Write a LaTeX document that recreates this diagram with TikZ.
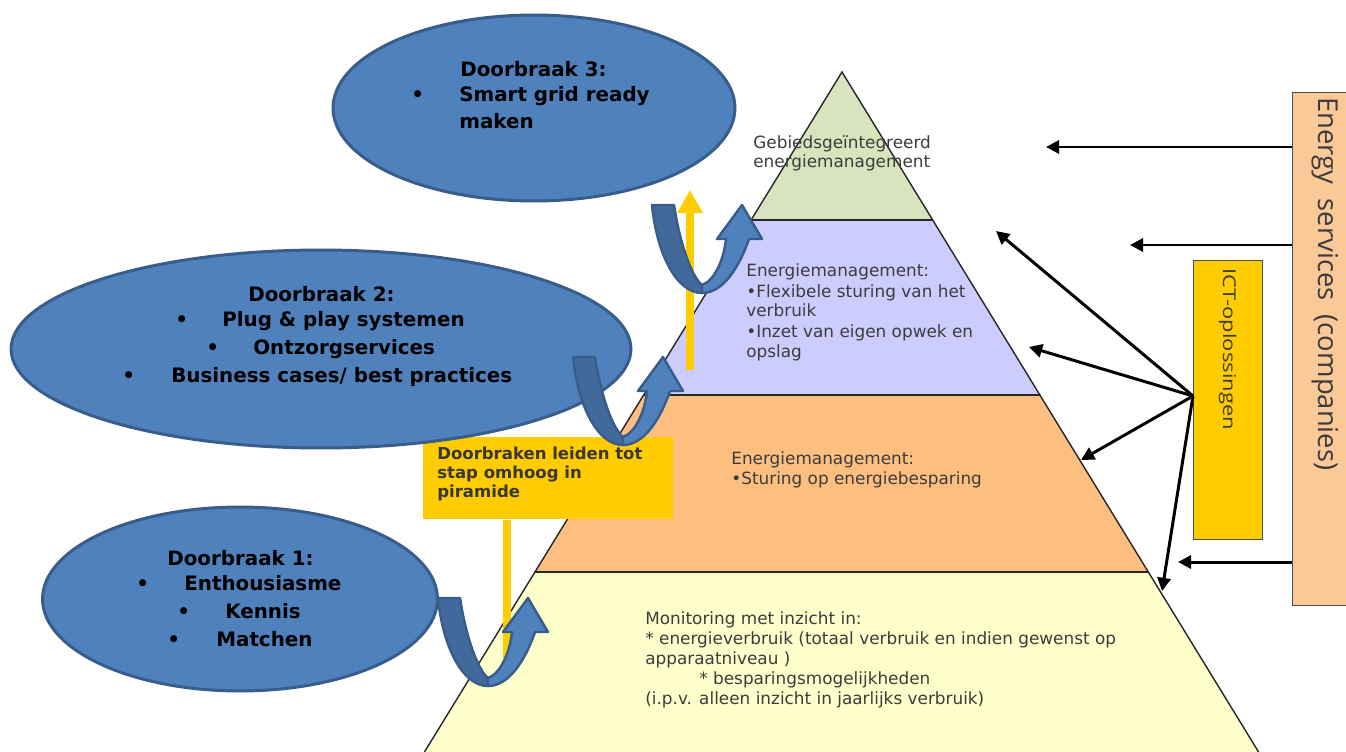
\documentclass[tikz,border=0pt]{standalone}
\usepackage{fontspec}
\setmainfont{DejaVu Sans}
\newfontfamily\osans{Open Sans}
\usetikzlibrary{arrows.meta,shapes.geometric}

\definecolor{bluefill}{HTML}{4F81BD}
\definecolor{blueback}{HTML}{41699C}
\definecolor{blueborder}{HTML}{385D8A}
\definecolor{lvgreen}{HTML}{D7E4BD}
\definecolor{lvpurple}{HTML}{CCCCFF}
\definecolor{lvorange}{HTML}{FDBF80}
\definecolor{lvyellow}{HTML}{FFFFCC}
\definecolor{gold}{HTML}{FFCC00}
\definecolor{peach}{HTML}{FBC898}
\definecolor{txtgrey}{HTML}{3C3C3C}
\definecolor{boxtxt}{HTML}{383838}

\tikzset{
  uturnarrow/.pic={
    \filldraw[fill=blueback, draw=blueborder, line width=1.4pt, line join=round]
      (0,0) .. controls (5,50) and (25,88) .. (50,88) -- (50,80)
      .. controls (40,72) and (28,40) .. (22,0) -- cycle;
    \filldraw[fill=bluefill, draw=blueborder, line width=1.4pt, line join=round]
      (50,88) .. controls (72,88) and (88,60) .. (97,34) -- (110,34) -- (90,0)
      -- (65,34) -- (74,34) .. controls (72,55) and (62,76) .. (50,80) -- cycle;
  }
}

\begin{document}
\begin{tikzpicture}[x=0.02cm,y=-0.02cm,
  ptext/.style={anchor=base west, inner sep=0pt, text=txtgrey,
                font=\fontsize{9.6}{11}\selectfont},
  btext/.style={anchor=base west, inner sep=0pt, text=black,
                font=\fontsize{11.3}{14}\selectfont\bfseries},
  stext/.style={anchor=base west, inner sep=0pt, text=boxtxt,
                font=\fontsize{9.4}{11}\selectfont\bfseries},
  bubble/.style={ellipse, inner sep=0pt, fill=bluefill, draw=blueborder, line width=1.7pt},
  goldbox/.style={rectangle, inner sep=0pt, fill=gold, anchor=north west},
  yline/.style={draw=gold, line width=4.5pt},
  blackarrow/.style={draw=black, line width=1.7pt, -{Triangle[length=7.5pt,width=7.5pt]}},
  layerline/.style={draw=black!85, line width=0.8pt}
]
\useasboundingbox (0,0) rectangle (1346,751);
\fill[white] (0,0) rectangle (1346,751);

% pyramid layers
\fill[lvgreen]  (842,72) -- (932.7,220) -- (751.1,220) -- cycle;
\fill[lvpurple] (751.1,220) -- (932.7,220) -- (1039.9,395) -- (643.6,395) -- cycle;
\fill[lvorange] (643.6,395) -- (1039.9,395) -- (1148.3,572) -- (534.9,572) -- cycle;
\fill[lvyellow] (534.9,572) -- (1148.3,572) -- (1263.5,760) -- (419.5,760) -- cycle;
\draw[layerline] (419.5,760) -- (842,72) -- (1263.5,760);
\draw[layerline] (751.1,220) -- (932.7,220);
\draw[layerline] (643.6,395) -- (1039.9,395);
\draw[layerline] (534.9,572) -- (1148.3,572);

% pyramid texts
\node[ptext] (g1) at (753,148) {Gebiedsgeïntegreerd};
\node[ptext] (g2) at (753,167) {energiemanagement};
\node[ptext] (p1) at (746,276) {Energiemanagement:};
\node[ptext] (p2) at (746,297) {•Flexibele sturing van het};
\node[ptext] (p3) at (746,316) {verbruik};
\node[ptext] (p4) at (746,337) {•Inzet van eigen opwek en};
\node[ptext] (p5) at (746,357) {opslag};
\node[ptext] (o1) at (731,464) {Energiemanagement:};
\node[ptext] (o2) at (731,484) {•Sturing op energiebesparing};
\node[ptext] (y1) at (645,624) {Monitoring met inzicht in:};
\node[ptext] (y2) at (645,644) {* energieverbruik (totaal verbruik en indien gewenst op};
\node[ptext] (y3) at (645,664) {apparaatniveau )};
\node[ptext] (y4) at (699,684) {* besparingsmogelijkheden};
\node[ptext] (y5) at (645,704) {(i.p.v. alleen inzicht in jaarlijks verbruik)};

% yellow step indicator
\node[goldbox, minimum width=5cm, minimum height=1.64cm] (stap) at (423,437) {};
\coordinate (ylo) at (507,660);
\coordinate (yhiA) at (690,370);
\coordinate (yhiB) at (690,190);
\draw[yline] (ylo) -- (ylo |- stap.south);
\draw[yline, -{Triangle[length=13pt,width=13.6pt]}] (yhiA) -- (yhiB);
\node[stext] (s1) at (437,459) {Doorbraken leiden tot};
\node[stext] (s2) at (437,478) {stap omhoog in};
\node[stext] (s3) at (437,497) {piramide};

% breakthrough bubbles
\node[bubble, minimum width=8.04cm, minimum height=3.72cm] (e3) at (534,108) {};
\node[bubble, minimum width=12.4cm, minimum height=3.96cm] (e2) at (321,349) {};
\node[bubble, minimum width=7.9cm, minimum height=3.68cm] (e1) at (240,599) {};

\node[btext] (t3a) at (460,76) {Doorbraak 3:};
\node[btext] (t3b) at (411,101) {•};
\node[btext] (t3c) at (459,101) {Smart grid ready};
\node[btext] (t3d) at (459,128) {maken};

\node[btext] (t2a) at (248,301) {Doorbraak 2:};
\node[btext] (t2b) at (175,326) {•};
\node[btext] (t2c) at (222,326) {Plug \& play systemen};
\node[btext] (t2d) at (206,354) {•};
\node[btext] (t2e) at (253,354) {Ontzorgservices};
\node[btext] (t2f) at (122,382) {•};
\node[btext] (t2g) at (171,382) {Business cases/ best practices};

\node[btext] (t1a) at (167,565) {Doorbraak 1:};
\node[btext] (t1b) at (136,590) {•};
\node[btext] (t1c) at (184,590) {Enthousiasme};
\node[btext] (t1d) at (177,618) {•};
\node[btext] (t1e) at (225,618) {Kennis};
\node[btext] (t1f) at (167,646) {•};
\node[btext] (t1g) at (216,646) {Matchen};

% curved step-up arrows
\pic at (438,598) {uturnarrow};
\pic at (573,357) {uturnarrow};
\pic at (652,205) {uturnarrow};

% energy services and ICT
\node[rectangle, inner sep=0pt, fill=peach, draw=black!70, line width=0.6pt,
      anchor=north west, minimum width=1.6cm, minimum height=10.26cm] (es) at (1292,92) {};
\node[anchor=base west, rotate=-90, inner sep=0pt, text=txtgrey,
      font=\osans\fontsize{15.6}{18}\selectfont] (estxt) at (1318,97)
      {Energy\ \ services\ \ (companies)};
\node[goldbox, draw=black!70, line width=0.6pt, minimum width=1.38cm, minimum height=5.58cm] (ict) at (1193,260) {};
\node[anchor=base west, rotate=-90, inner sep=0pt, text=txtgrey,
      font=\osans\fontsize{12.5}{14}\selectfont] (icttxt) at (1223,268)
      {\scalebox{1}[0.8]{ICT-oplossingen}};

\coordinate (h1) at (1046,147);
\coordinate (h2) at (1130,245);
\coordinate (h3) at (1178,562);
\draw[blackarrow] (h1 -| es.west) -- (h1);
\draw[blackarrow] (h2 -| es.west) -- (h2);
\draw[blackarrow] (h3 -| es.west) -- (h3);

\coordinate (hub) at (1193,396);
\coordinate (d1) at (996,231);
\coordinate (d2) at (1029,347);
\coordinate (d3) at (1081,460);
\coordinate (d4) at (1162,591);
\draw[blackarrow] (hub) -- (d1);
\draw[blackarrow] (hub) -- (d2);
\draw[blackarrow] (hub) -- (d3);
\draw[blackarrow] (hub) -- (d4);
\end{tikzpicture}
\end{document}
